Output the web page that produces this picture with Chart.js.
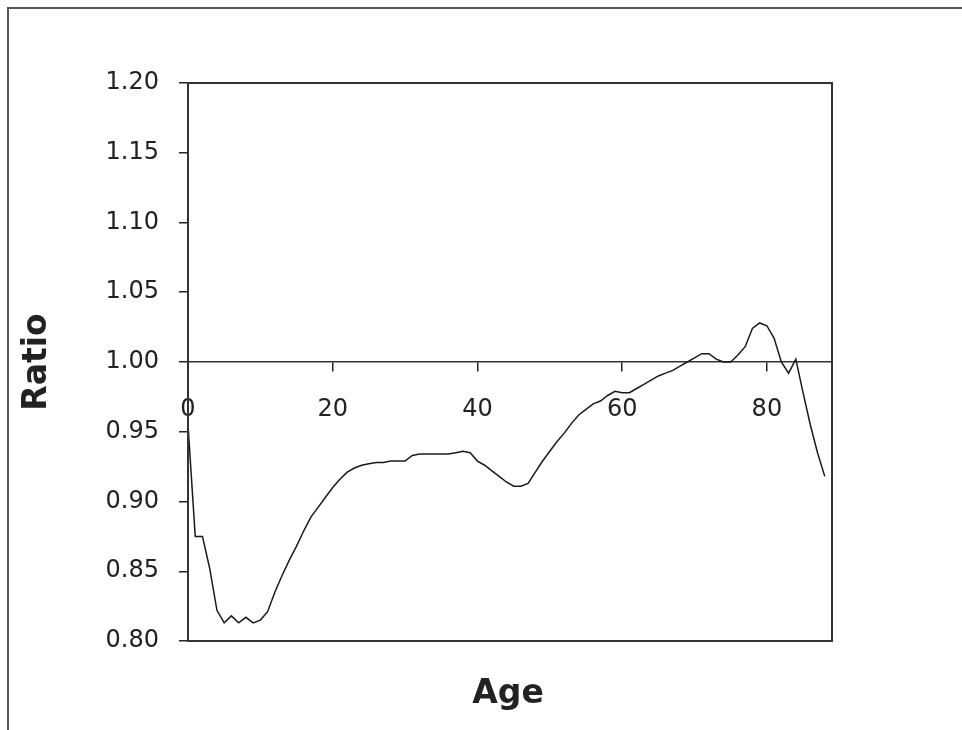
<!DOCTYPE html>
<html>
<head>
<meta charset="utf-8">
<title>Ratio by age</title>
<script src="https://cdn.jsdelivr.net/npm/chart.js@4/dist/chart.umd.min.js"></script>
<style>
  body { margin: 0; background: #fff; }
  #wrap { position: relative; width: 962px; height: 730px; }
  #frame {
    position: absolute; left: 7px; top: 7px; right: 0; bottom: 0;
    border-left: 2px solid #555; border-top: 2px solid #555;
  }
  #chart { position: absolute; left: 0; top: 0; }
</style>
</head>
<body>
<div id="wrap">
  <div id="frame"></div>
  <canvas id="chart" width="962" height="730"></canvas>
</div>
<script>
// 数据：年龄与比值
const ages = [
  0, 1, 2, 3, 4, 5, 6, 7, 8, 9,
  10, 11, 12, 13, 14, 15, 16, 17, 18, 19,
  20, 21, 22, 23, 24, 25, 26, 27, 28, 29,
  30, 31, 32, 33, 34, 35, 36, 37, 38, 39,
  40, 41, 42, 43, 44, 45, 46, 47, 48, 49,
  50, 51, 52, 53, 54, 55, 56, 57, 58, 59,
  60, 61, 62, 63, 64, 65, 66, 67, 68, 69,
  70, 71, 72, 73, 74, 75, 76, 77, 78, 79,
  80, 81, 82, 83, 84, 85, 86, 87, 88
];
const ratios = [
  0.955, 0.875, 0.875, 0.852, 0.822, 0.813, 0.818, 0.813, 0.817, 0.813,
  0.815, 0.821, 0.835, 0.847, 0.858, 0.868, 0.879, 0.889, 0.896, 0.903,
  0.910, 0.916, 0.921, 0.924, 0.926, 0.927, 0.928, 0.928, 0.929, 0.929,
  0.929, 0.933, 0.934, 0.934, 0.934, 0.934, 0.934, 0.935, 0.936, 0.935,
  0.929, 0.926, 0.922, 0.918, 0.914, 0.911, 0.911, 0.913, 0.921, 0.929,
  0.936, 0.943, 0.949, 0.956, 0.962, 0.966, 0.970, 0.972, 0.976, 0.979,
  0.978, 0.978, 0.981, 0.984, 0.987, 0.990, 0.992, 0.994, 0.997, 1.000,
  1.003, 1.006, 1.006, 1.002, 1.000, 1.000, 1.005, 1.011, 1.024, 1.028,
  1.026, 1.017, 1.000, 0.992, 1.002, 0.978, 0.955, 0.935, 0.918
];
const xTicks = [0, 20, 40, 60, 80];
const yTicks = [0.80, 0.85, 0.90, 0.95, 1.00, 1.05, 1.10, 1.15, 1.20];
const xTitle = "Age";
const yTitle = "Ratio";

const ink = "#222";

// 外框与横轴标题
const framePlugin = {
  id: "framePlugin",
  afterDraw(chart) {
    const { ctx, chartArea: a } = chart;
    ctx.save();
    ctx.strokeStyle = "#333";
    ctx.lineWidth = 2;
    ctx.strokeRect(a.left, a.top, a.right - a.left, a.bottom - a.top);
    ctx.fillStyle = ink;
    ctx.font = "bold 33px 'DejaVu Sans'";
    ctx.textAlign = "center";
    ctx.textBaseline = "alphabetic";
    ctx.fillText(xTitle, (a.left + a.right) / 2 - 2, 703);
    ctx.restore();
  }
};

new Chart(document.getElementById("chart"), {
  type: "line",
  data: {
    datasets: [{
      data: ages.map((a, i) => ({ x: a, y: ratios[i] })),
      borderColor: "#1a1a1a",
      borderWidth: 1.5,
      pointRadius: 0,
      tension: 0,
      fill: false
    }]
  },
  options: {
    responsive: false,
    animation: false,
    layout: { padding: { left: 0, top: 83, right: 130, bottom: 89 } },
    plugins: { legend: { display: false }, tooltip: { enabled: false } },
    scales: {
      x: {
        type: "linear",
        position: { y: 1.0 },
        min: 0,
        max: 89,
        afterBuildTicks: s => { s.ticks = xTicks.map(v => ({ value: v })); },
        ticks: {
          color: ink,
          padding: 24,
          maxRotation: 0,
          font: { family: "'DejaVu Sans'", size: 24 }
        },
        grid: { drawOnChartArea: false, drawTicks: true, tickLength: 9, color: ink, lineWidth: 1.5 },
        border: { display: true, color: "#333", width: 1.5 }
      },
      y: {
        min: 0.8,
        max: 1.2,
        afterBuildTicks: s => { s.ticks = yTicks.map(v => ({ value: v })); },
        afterFit: s => { s.width = 188; },
        ticks: {
          color: ink,
          padding: 20,
          font: { family: "'DejaVu Sans'", size: 24 },
          callback: v => Number(v).toFixed(2)
        },
        grid: { drawOnChartArea: false, drawTicks: true, tickLength: 9, color: ink, lineWidth: 1.5 },
        border: { display: true, color: "#333", width: 2 },
        title: {
          display: true,
          text: yTitle,
          color: ink,
          padding: { top: 18, bottom: 0 },
          font: { family: "'DejaVu Sans'", size: 33, weight: "bold" }
        }
      }
    }
  },
  plugins: [framePlugin]
});
</script>
</body>
</html>
